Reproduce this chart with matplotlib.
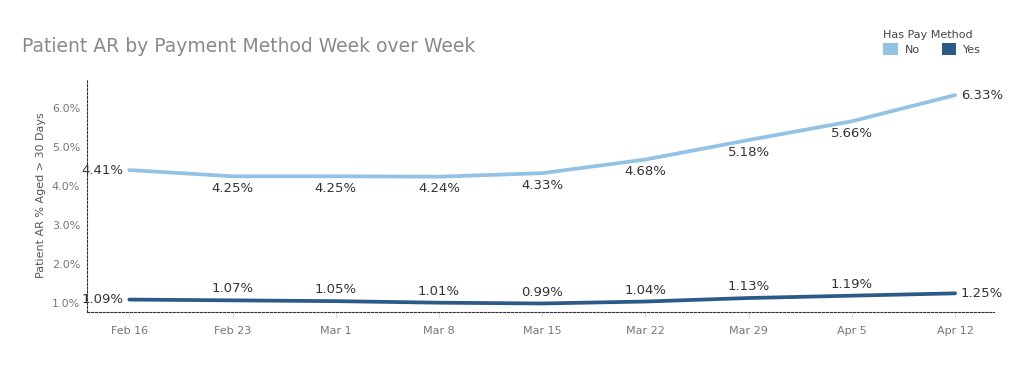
import numpy as np
import matplotlib
matplotlib.use('Agg')
import matplotlib.pyplot as plt
from matplotlib.patches import Patch

weeks = ['Feb 16', 'Feb 23', 'Mar 1', 'Mar 8', 'Mar 15', 'Mar 22', 'Mar 29', 'Apr 5', 'Apr 12']
no_pay = [4.41, 4.25, 4.25, 4.24, 4.33, 4.68, 5.18, 5.66, 6.33]
yes_pay = [1.09, 1.07, 1.05, 1.01, 0.99, 1.04, 1.13, 1.19, 1.25]
yticks = [1.0, 2.0, 3.0, 4.0, 5.0, 6.0]

c_no = '#93c2e4'
c_yes = '#2c5a88'
txt = '#333333'
grey = '#777777'

plt.rcParams['font.family'] = ['DejaVu Sans']

fig = plt.figure(figsize=(10.24, 3.68), dpi=100)
ax = fig.add_axes([0.085, 0.152, 0.886, 0.634])

x = np.arange(len(weeks))
ax.plot(x, no_pay, color=c_no, lw=2.7, solid_capstyle='round', solid_joinstyle='round')
ax.plot(x, yes_pay, color=c_yes, lw=2.7, solid_capstyle='round', solid_joinstyle='round')

# data labels: first on left, last on right, others below (No) / above (Yes)
n = len(x)
fs = 9.5
for i in range(n):
    if i == 0:
        ax.annotate(f'{no_pay[i]:.2f}%', (x[i], no_pay[i]), xytext=(-4, 0), textcoords='offset points',
                    ha='right', va='center', fontsize=fs, color=txt)
        ax.annotate(f'{yes_pay[i]:.2f}%', (x[i], yes_pay[i]), xytext=(-4, 0), textcoords='offset points',
                    ha='right', va='center', fontsize=fs, color=txt)
    elif i == n - 1:
        ax.annotate(f'{no_pay[i]:.2f}%', (x[i], no_pay[i]), xytext=(4, 0), textcoords='offset points',
                    ha='left', va='center', fontsize=fs, color=txt)
        ax.annotate(f'{yes_pay[i]:.2f}%', (x[i], yes_pay[i]), xytext=(4, 0), textcoords='offset points',
                    ha='left', va='center', fontsize=fs, color=txt)
    else:
        ax.annotate(f'{no_pay[i]:.2f}%', (x[i], no_pay[i]), xytext=(0, -4), textcoords='offset points',
                    ha='center', va='top', fontsize=fs, color=txt)
        ax.annotate(f'{yes_pay[i]:.2f}%', (x[i], yes_pay[i]), xytext=(0, 3.5), textcoords='offset points',
                    ha='center', va='bottom', fontsize=fs, color=txt)

ax.set_xlim(-0.41, 8.38)
ax.set_ylim(0.77, 6.75)
ax.set_xticks(x)
ax.set_xticklabels(weeks)
ax.set_yticks(yticks)
ax.set_yticklabels([f'{v:.1f}%' for v in yticks])
ax.tick_params(axis='x', colors='#dddddd', labelcolor=grey, labelsize=8, length=4, pad=6)
ax.tick_params(axis='y', length=0, labelcolor=grey, labelsize=8, pad=5)
ax.set_ylabel('Patient AR % Aged > 30 Days', fontsize=8, color='#555555', labelpad=4)

for s in ['top', 'right']:
    ax.spines[s].set_visible(False)
for s in ['left', 'bottom']:
    ax.spines[s].set_linestyle((0, (2, 1.5)))
    ax.spines[s].set_color('#333333')
    ax.spines[s].set_linewidth(0.8)

fig.text(0.021, 0.86, 'Patient AR by Payment Method Week over Week', fontsize=13.5, color='#8a8a8a')

handles = [Patch(facecolor=c_no, edgecolor='none', label='No'),
           Patch(facecolor=c_yes, edgecolor='none', label='Yes')]
fig.legend(handles=handles, title='Has Pay Method', ncol=2, loc='upper left',
           bbox_to_anchor=(0.855, 0.94), frameon=False, fontsize=8, title_fontsize=8,
           alignment='left', handlelength=1.3, handleheight=1.3, handletextpad=0.6,
           columnspacing=2.0, borderpad=0.2, labelspacing=0.3, labelcolor='#444444')
leg = fig.legends[0]
leg.get_title().set_color('#444444')

fig.savefig('out.png', dpi=100, facecolor='white')
